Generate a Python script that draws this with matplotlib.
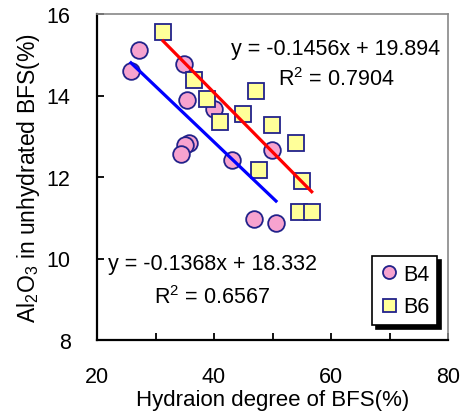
import numpy as np
import matplotlib
matplotlib.use('Agg')
import matplotlib.pyplot as plt
from matplotlib.ticker import MultipleLocator

plt.rcParams['font.family'] = ['Liberation Sans', 'DejaVu Sans']
plt.rcParams['mathtext.fontset'] = 'custom'
plt.rcParams['mathtext.rm'] = 'Liberation Sans'
plt.rcParams['mathtext.it'] = 'Liberation Sans:italic'

# B4 samples (hydration degree %, Al2O3 %)
b4_x = [27.1, 25.8, 34.9, 35.3, 40.0, 35.8, 35.0, 34.3, 43.1, 49.9, 46.8, 50.6]
b4_y = [15.12, 14.59, 14.77, 13.90, 13.67, 12.83, 12.79, 12.56, 12.42, 12.67, 10.97, 10.86]

# B6 samples
b6_x = [31.3, 36.6, 38.75, 47.1, 41.0, 45.0, 49.9, 54.0, 47.7, 55.1, 54.5, 56.7]
b6_y = [15.57, 14.38, 13.91, 14.10, 13.35, 13.54, 13.28, 12.83, 12.18, 11.91, 11.14, 11.14]

# fitted trend lines as given on the chart
b4_fit = (-0.1368, 18.332, 0.6567)
b6_fit = (-0.1456, 19.894, 0.7904)

W, H = 462, 414
fig = plt.figure(figsize=(W / 100, H / 100), dpi=100)
ax = fig.add_axes([97 / W, 1 - 341 / H, 351 / W, 326 / H])

ax.plot(b4_x, b4_y, 'o', ms=12, mfc='#F7A3CF', mec='#22228A', mew=1.3,
        label='B4', zorder=3)
ax.plot(b6_x, b6_y, 's', ms=12, mfc='#FFFF99', mec='#22228A', mew=1.3,
        label='B6', zorder=3)

xs = np.array([min(b4_x), max(b4_x)])
ax.plot(xs, b4_fit[0] * xs + b4_fit[1], color='#0000FF', lw=2.3, zorder=4)
xs = np.array([min(b6_x), max(b6_x)])
ax.plot(xs, b6_fit[0] * xs + b6_fit[1], color='#FF0000', lw=2.3, zorder=4)


def put(px, py, s):
    fig.text(px / W, 1 - py / H, s, ha='center', va='center', fontsize=15.5)


put(336, 50, f'y = {b6_fit[0]}x + {b6_fit[1]}')
put(336, 80, f'R$^2$ = {b6_fit[2]}')
put(212, 265, f'y = {b4_fit[0]}x + {b4_fit[1]}')
put(212, 298, f'R$^2$ = {b4_fit[2]}')

ax.set_xlim(20, 80)
ax.set_ylim(8, 16)
ax.xaxis.set_major_locator(MultipleLocator(20))
ax.xaxis.set_minor_locator(MultipleLocator(10))
ax.yaxis.set_major_locator(MultipleLocator(2))
ax.tick_params(which='both', direction='in', top=False, right=False,
               labelsize=15.5, length=5, width=1.3, pad=19)
for s in ['left', 'bottom']:
    ax.spines[s].set_linewidth(1.6)
for s in ['top', 'right']:
    ax.spines[s].set_color('#888888')
    ax.spines[s].set_linewidth(1.2)

ax.set_xlabel('Hydraion degree of BFS(%)', fontsize=16, labelpad=1)
ax.set_ylabel('Al$_2$O$_3$ in unhydrated BFS(%)', fontsize=16.5, labelpad=3)

leg = ax.legend(loc='lower right', fontsize=15.5, frameon=True, fancybox=False,
                shadow={'color': 'black', 'alpha': 1, 'ox': 3, 'oy': -3},
                handletextpad=0.2, handlelength=0.9, borderpad=0.35,
                labelspacing=0.55, markerscale=0.78, borderaxespad=0,
                bbox_to_anchor=(0.969, 0.046))
leg.get_frame().set_edgecolor('black')
leg.get_frame().set_linewidth(1.2)

fig.savefig('out.png', dpi=100)
